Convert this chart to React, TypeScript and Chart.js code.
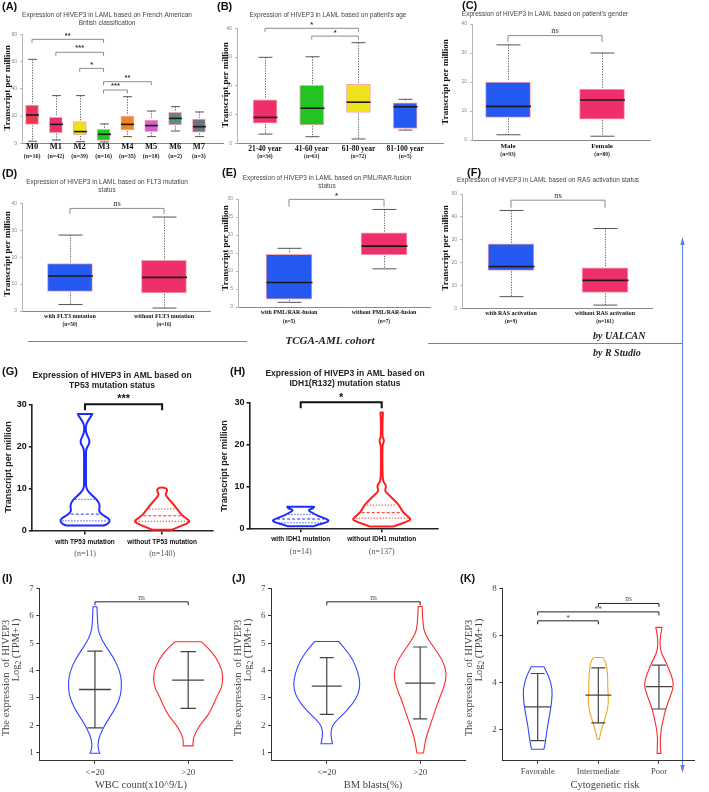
import React, { useEffect, useRef } from 'react';
import { Chart, registerables } from 'chart.js';

Chart.register(...registerables);

const PAGE_W = 709;
const PAGE_H = 792;
const SERIF = '"Liberation Serif", "Times New Roman", serif';
const SANS = '"Liberation Sans", Arial, sans-serif';

// ---------------- DATA ----------------
// (A) FAB classification
const fabCats = ['M0', 'M1', 'M2', 'M3', 'M4', 'M5', 'M6', 'M7'];
const fabN = ['(n=16)', '(n=42)', '(n=39)', '(n=16)', '(n=35)', '(n=18)', '(n=2)', '(n=3)'];
const fabMin = [1.5, 2.4, 1.2, 1.0, 4.9, 4.9, 9.0, 4.9];
const fabQ1 = [13.9, 7.8, 6.1, 2.2, 9.8, 8.6, 13.4, 8.1];
const fabMed = [20.8, 13.9, 8.6, 6.6, 13.9, 13.0, 18.3, 12.2];
const fabQ3 = [28.1, 19.1, 15.9, 10.3, 20.0, 17.1, 22.7, 17.8];
const fabMax = [61.6, 35.0, 35.0, 14.2, 34.2, 23.7, 26.9, 23.0];
const fabColors = ['#e8384f', '#ec2f6c', '#eee21c', '#22c322', '#f6831d', '#d85fcb', '#5b8985', '#6b7480'];
const fabSig = [[0, 3, 76.3, '**'], [1, 3, 66.8, '***'], [2, 3, 55, '*'], [3, 5, 45.2, '**'], [3, 4, 39.1, '***']];
const fabTicks = [0, 20, 40, 60, 80];

// (B) age
const ageCats = ['21-40 year', '41-60 year', '61-80 year', '81-100 year'];
const ageN = ['(n=34)', '(n=61)', '(n=72)', '(n=5)'];
const ageMin = [3.2, 2.3, 1.5, 4.6];
const ageQ1 = [7.0, 6.4, 10.7, 5.2];
const ageMed = [9.0, 12.2, 14.3, 12.7];
const ageQ3 = [15.1, 20.2, 20.5, 14.1];
const ageMax = [29.9, 30.1, 35.0, 15.3];
const ageColors = ['#ee2f6c', '#22c322', '#eee21c', '#2459f2'];
const ageSig = [[0, 2, 40, '*'], [1, 2, 37.3, '*']];
const ageTicks = [0, 10, 20, 30, 40];

// (C) gender
const genCats = ['Male', 'Female'];
const genN = ['(n=93)', '(n=80)'];
const genMin = [1.8, 1.3];
const genQ1 = [7.8, 7.2];
const genMed = [11.6, 13.8];
const genQ3 = [20.0, 17.6];
const genMax = [32.8, 30.0];
const genSig = [[0, 1, 36, 'ns']];
const genTicks = [0, 10, 20, 30, 40];

// (D) FLT3
const flt3Cats = ['with FLT3 mutation', 'without FLT3 mutation'];
const flt3N = ['(n=50)', '(n=16)'];
const flt3Min = [2.4, 1.1];
const flt3Q1 = [7.3, 6.7];
const flt3Med = [13.0, 12.5];
const flt3Q3 = [17.6, 18.8];
const flt3Max = [28.2, 34.9];
const flt3Sig = [[0, 1, 38.1, 'ns']];
const flt3Ticks = [0, 10, 20, 30, 40];

// (E) PML/RAR
const pmlCats = ['with PML/RAR-fusion', 'without PML/RAR-fusion'];
const pmlN = ['(n=5)', '(n=7)'];
const pmlMin = [1.3, 10.6];
const pmlQ1 = [2.2, 14.5];
const pmlMed = [6.8, 16.9];
const pmlQ3 = [14.6, 20.6];
const pmlMax = [16.3, 27.1];
const pmlSig = [[0, 1, 29.9, '*']];
const pmlTicks = [0, 5, 10, 15, 20, 25, 30];

// (F) RAS
const rasCats = ['with RAS activation', 'without RAS activation'];
const rasN = ['(n=9)', '(n=161)'];
const rasMin = [5.1, 1.4];
const rasQ1 = [16.6, 7.0];
const rasMed = [18.3, 12.2];
const rasQ3 = [28.2, 17.7];
const rasMax = [42.8, 34.9];
const rasSig = [[0, 1, 47.3, 'ns']];
const rasTicks = [0, 10, 20, 30, 40, 50];

const twoColors = ['#2459f2', '#ee2f6c'];

// (G) TP53 violins: [value, half width (category units)]
const tp53Cats = ['with TP53 mutation', 'without TP53 mutation'];
const tp53N = ['(n=11)', '(n=140)'];
const tp53With = [[27.7, 0.095], [27.2, 0.08], [25.4, 0.013], [24.0, 0.009], [23.0, 0.017], [21.1, 0.07], [19.6, 0.017], [18.5, 0.012], [15, 0.012], [11, 0.012], [10.2, 0.017], [9.5, 0.035], [8.5, 0.087], [7.5, 0.15], [6.5, 0.186], [5.6, 0.19], [4.8, 0.178], [4.0, 0.21], [3.3, 0.28], [2.6, 0.325], [1.9, 0.31], [1.4, 0.26], [1.3, 0.24]];
const tp53Without = [[10.3, 0.01], [10.2, 0.045], [9.8, 0.065], [9.3, 0.062], [8.8, 0.045], [8.4, 0.05], [7.5, 0.087], [6.5, 0.14], [5.5, 0.18], [4.7, 0.216], [3.9, 0.25], [3.0, 0.31], [2.3, 0.368], [1.6, 0.3], [0.8, 0.195], [0.3, 0.13]];
const tp53Quart = [[2.4, 4.0, 7.5], [2.3, 3.6, 5.2]];
const tp53Sig = [[0, 1, 30, '***']];
const tp53Ticks = [0, 10, 20, 30];

// (H) IDH1 violins
const idh1Cats = ['with IDH1 mutation', 'without IDH1 mutation'];
const idh1N = ['(n=14)', '(n=137)'];
const idh1With = [[5.2, 0.165], [4.8, 0.156], [4.6, 0.103], [4.2, 0.1], [3.8, 0.144], [3.3, 0.185], [2.8, 0.247], [2.2, 0.33], [1.8, 0.35], [1.3, 0.288], [0.9, 0.206], [0.6, 0.165]];
const idh1Without = [[27.6, 0.016], [27.0, 0.012], [22.0, 0.008], [21.4, 0.02], [20.9, 0.029], [20.3, 0.02], [19.6, 0.008], [12, 0.01], [11.0, 0.025], [10.4, 0.05], [9.8, 0.053], [9.2, 0.041], [8.7, 0.05], [8.0, 0.09], [7.2, 0.132], [6.2, 0.185], [5.2, 0.226], [4.4, 0.247], [3.6, 0.28], [2.8, 0.33], [2.2, 0.362], [1.6, 0.309], [1.0, 0.206], [0.5, 0.144]];
const idh1Quart = [[1.4, 2.3, 3.4], [2.5, 3.8, 5.6]];
const idh1Sig = [[0, 1, 30, '*']];
const idh1Ticks = [0, 10, 20, 30];

// (I) WBC count
const wbcCats = ['<=20', '>20'];
const wbcLow = [[6.33, 0.021], [5.6, 0.029], [5.29, 0.05], [4.93, 0.107], [4.44, 0.207], [3.96, 0.268], [3.59, 0.286], [3.1, 0.279], [2.62, 0.221], [2.13, 0.125], [1.64, 0.05], [1.28, 0.029], [1.04, 0.043], [0.98, 0.054]];
const wbcHigh = [[5.05, 0.143], [4.81, 0.221], [4.44, 0.304], [4.08, 0.357], [3.71, 0.375], [3.35, 0.357], [3.1, 0.314], [2.74, 0.268], [2.37, 0.214], [2.01, 0.125], [1.64, 0.064], [1.4, 0.05], [1.25, 0.054]];
const wbcErr = [[1.91, 3.31, 4.71], [2.62, 3.65, 4.69]];
const wbcSig = [[0, 1, 6.51, 'ns']];
const tpmTicks7 = [1, 2, 3, 4, 5, 6, 7];

// (J) BM blasts
const bmCats = ['<=20', '>20'];
const bmLow = [[5.06, 0.129], [4.8, 0.196], [4.37, 0.286], [3.88, 0.339], [3.52, 0.357], [3.15, 0.339], [2.79, 0.279], [2.42, 0.179], [2.12, 0.089], [1.94, 0.054], [1.69, 0.043], [1.45, 0.054], [1.33, 0.061]];
const bmHigh = [[6.34, 0.021], [5.71, 0.029], [5.34, 0.05], [4.86, 0.143], [4.37, 0.243], [3.88, 0.286], [3.4, 0.257], [2.91, 0.196], [2.42, 0.15], [1.94, 0.1], [1.45, 0.054], [0.99, 0.036]];
const bmErr = [[2.4, 3.43, 4.47], [2.24, 3.54, 4.86]];
const bmSig = [[0, 1, 6.51, 'ns']];

// (K) cytogenetic risk
const cytoCats = ['Favorable', 'Intermediate', 'Poor'];
const cytoFav = [[4.67, 0.103], [4.31, 0.18], [3.74, 0.242], [3.18, 0.232], [2.61, 0.196], [2.04, 0.155], [1.48, 0.129], [1.16, 0.103]];
const cytoInt = [[5.06, 0.077], [4.88, 0.129], [4.31, 0.155], [3.74, 0.155], [3.18, 0.17], [2.75, 0.144], [2.33, 0.093], [1.9, 0.041], [1.57, 0.015]];
const cytoPoor = [[6.34, 0.052], [6.01, 0.026], [5.59, 0.015], [5.23, 0.041], [4.88, 0.113], [4.31, 0.206], [3.89, 0.247], [3.46, 0.196], [2.89, 0.113], [2.33, 0.062], [1.9, 0.031], [1.48, 0.021], [0.98, 0.031]];
const cytoErr = [[1.52, 2.96, 4.38], [2.28, 3.46, 4.62], [2.87, 3.82, 4.74]];
const cytoSig = [[0, 1, 6.62, '*'], [0, 2, 7.0, '**'], [1, 2, 7.36, 'ns']];
const cytoTicks = [2, 4, 6, 8];

// ---------------- STYLES ----------------
const f = (size: number, family: string, weight = 'normal', style = 'normal') => `${style} ${weight} ${size}px ${family}`;
const LETTER = f(11, SANS, 'bold');
const UAL_TITLE = f(6.5, SANS);
const UAL_YT = f(9, SERIF, 'bold');
const PR_TITLE = f(8.5, SANS, 'bold');
const PR_YT = f(9, SANS, 'bold');
const GG_T = f(10.5, SERIF);

const ualAxis = { tickFont: { family: SANS, size: 5 }, tickColor: '#888', tickLen: 2, tickPad: 3, yAxisColor: '#b4b4b4', xAxisColor: '#8a8a8a', lw: 1, xTicks: false };
const prismAxis = { tickFont: { family: SANS, size: 9, weight: 'bold' }, tickColor: '#111', tickLen: 3.5, tickPad: 2, yAxisColor: '#222', xAxisColor: '#222', lw: 1.6, xTicks: true };
const ggAxis = { tickFont: { family: SERIF, size: 9 }, tickColor: '#444', tickLen: 3, tickPad: 2.5, yAxisColor: '#333', xAxisColor: '#333', lw: 1, xTicks: true };

const ualSig = (font: string, leg: number, gap: number) => ({ color: '#8d8d8d', lw: 1, leg, font, size: parseFloat(font.split(' ')[2]), text: '#333', gap });
const prSig = { color: '#111', lw: 2, leg: 6, font: f(11, SANS, 'bold'), size: 11, text: '#111', gap: 8 };
const ggSig = { color: '#222', lw: 1, leg: 3.5, font: f(7.5, SERIF), size: 7.5, text: '#555', gap: 4 };

const ualCat = (size: number, y: number) => ({ y, font: f(size, SERIF, 'bold'), color: '#111' });
const ualSub = (size: number, y: number) => ({ y, font: f(size, SERIF, 'bold'), color: '#222' });

function ytitleGG(x1: number, x2: number) {
  return [
    { t: 'The expression  of HIVEP3', x: x1, y: 678, font: GG_T, color: '#444', align: 'center', rot: true },
    { parts: [['Log', 0, 10.5], ['2', 2.5, 7.5], [' (TPM+1)', 0, 10.5]], x: x2, y: 650, color: '#444', rot: true },
  ];
}

// ---------------- PANELS ----------------
const PANELS: any[] = [
  {
    kind: 'box', page: true, rect: [22, 34.3, 223, 143.3], xr: [-0.42, 8.01], yr: [0, 80], yTicks: fabTicks,
    cats: fabCats, sub: fabN, catStyle: ualCat(8.5, 146.5), subStyle: ualSub(6, 156),
    box: { min: fabMin, q1: fabQ1, med: fabMed, q3: fabQ3, max: fabMax, colors: fabColors, bar: 13, cap: 4.5 },
    sig: fabSig, sigStyle: ualSig(f(7.5, SANS, 'bold'), 3.5, 6), axis: ualAxis,
    texts: [
      { t: '(A)', x: 2, y: 7, font: LETTER },
      { t: 'Expression of HIVEP3 in LAML based on French American', x: 107, y: 15, font: UAL_TITLE, color: '#444', align: 'center' },
      { t: 'British classification', x: 107, y: 23, font: UAL_TITLE, color: '#444', align: 'center' },
      { t: 'Transcript per million', x: 7.5, y: 88, font: UAL_YT, align: 'center', rot: true },
    ],
  },
  {
    kind: 'box', rect: [237, 28.3, 443, 143.3], xr: [-0.6, 3.81], yr: [0, 40], yTicks: ageTicks,
    cats: ageCats, sub: ageN, catStyle: ualCat(7.5, 149), subStyle: ualSub(5.5, 157),
    box: { min: ageMin, q1: ageQ1, med: ageMed, q3: ageQ3, max: ageMax, colors: ageColors, bar: 24, cap: 7 },
    sig: ageSig, sigStyle: ualSig(f(7.5, SANS, 'bold'), 3.5, 5.5), axis: ualAxis,
    texts: [
      { t: '(B)', x: 217, y: 7, font: LETTER },
      { t: "Expression of HIVEP3 in LAML based on patient's age", x: 328, y: 15, font: UAL_TITLE, color: '#444', align: 'center' },
      { t: 'Transcript per million', x: 226, y: 85, font: UAL_YT, align: 'center', rot: true },
    ],
  },
  {
    kind: 'box', rect: [472, 24, 650, 140], xr: [-0.383, 1.51], yr: [0, 40], yTicks: genTicks,
    cats: genCats, sub: genN, catStyle: ualCat(7, 146), subStyle: ualSub(5.5, 155),
    box: { min: genMin, q1: genQ1, med: genMed, q3: genQ3, max: genMax, colors: twoColors, bar: 45, cap: 12 },
    sig: genSig, sigStyle: ualSig(f(8.5, SERIF), 6.6, 5), axis: ualAxis,
    texts: [
      { t: '(C)', x: 462, y: 6, font: LETTER },
      { t: "Expression of HIVEP3 in LAML based on patient's gender", x: 545, y: 14, font: UAL_TITLE, color: '#444', align: 'center' },
      { t: 'Transcript per million', x: 446, y: 82, font: UAL_YT, align: 'center', rot: true },
    ],
  },
  {
    kind: 'box', rect: [22, 203.3, 210, 311], xr: [-0.51, 1.49], yr: [0, 40], yTicks: flt3Ticks,
    cats: flt3Cats, sub: flt3N, catStyle: ualCat(6, 316), subStyle: ualSub(5.3, 325),
    box: { min: flt3Min, q1: flt3Q1, med: flt3Med, q3: flt3Q3, max: flt3Max, colors: twoColors, bar: 45, cap: 12 },
    sig: flt3Sig, sigStyle: ualSig(f(8.5, SERIF), 5.7, 4.5), axis: ualAxis,
    texts: [
      { t: '(D)', x: 2, y: 174, font: LETTER },
      { t: 'Expression of HIVEP3 in LAML based on FLT3 mutation', x: 107, y: 182, font: UAL_TITLE, color: '#444', align: 'center' },
      { t: 'status', x: 107, y: 190, font: UAL_TITLE, color: '#444', align: 'center' },
      { t: 'Transcript per million', x: 7.5, y: 254, font: UAL_YT, align: 'center', rot: true },
    ],
  },
  {
    kind: 'box', rect: [238, 199, 430, 307], xr: [-0.537, 1.484], yr: [0, 30], yTicks: pmlTicks,
    cats: pmlCats, sub: pmlN, catStyle: ualCat(5.8, 312.3), subStyle: ualSub(5.3, 321.7),
    box: { min: pmlMin, q1: pmlQ1, med: pmlMed, q3: pmlQ3, max: pmlMax, colors: twoColors, bar: 46, cap: 12 },
    sig: pmlSig, sigStyle: ualSig(f(8, SANS, 'bold'), 7.4, 5.5), axis: ualAxis,
    texts: [
      { t: '(E)', x: 222, y: 173, font: LETTER },
      { t: 'Expression of HIVEP3 in LAML based on PML/RAR-fusion', x: 327, y: 178.5, font: UAL_TITLE, color: '#444', align: 'center' },
      { t: 'status', x: 327, y: 186, font: UAL_TITLE, color: '#444', align: 'center' },
      { t: 'Transcript per million', x: 225.5, y: 248, font: UAL_YT, align: 'center', rot: true },
    ],
  },
  {
    kind: 'box', rect: [462, 194, 652, 308.3], xr: [-0.521, 1.5], yr: [0, 50], yTicks: rasTicks,
    cats: rasCats, sub: rasN, catStyle: ualCat(6, 313.7), subStyle: ualSub(5.3, 321.7),
    box: { min: rasMin, q1: rasQ1, med: rasMed, q3: rasQ3, max: rasMax, colors: twoColors, bar: 46, cap: 12 },
    sig: rasSig, sigStyle: ualSig(f(8.5, SERIF), 7.7, 4.5), axis: ualAxis,
    texts: [
      { t: '(F)', x: 467, y: 173, font: LETTER },
      { t: 'Expression of HIVEP3 in LAML based on RAS activation status', x: 548, y: 180.5, font: UAL_TITLE, color: '#444', align: 'center' },
      { t: 'Transcript per million', x: 446, y: 248, font: UAL_YT, align: 'center', rot: true },
    ],
  },
  {
    kind: 'violin', rect: [32.3, 404.3, 213, 531], xr: [-0.684, 1.66], yr: [0, 30], yTicks: tp53Ticks,
    cats: tp53Cats, sub: tp53N, catStyle: { y: 542.3, font: f(6.5, SANS, 'bold'), color: '#111' }, subStyle: { y: 554, font: f(8, SERIF), color: '#555' },
    vio: { shapes: [tp53With, tp53Without], colors: ['#1e2bff', '#ff2020'], lw: 2, quart: tp53Quart },
    sig: tp53Sig, sigStyle: prSig, axis: prismAxis,
    texts: [
      { t: '(G)', x: 2, y: 372, font: LETTER },
      { t: 'Expression of HIVEP3 in AML based on', x: 112, y: 376, font: PR_TITLE, color: '#222', align: 'center' },
      { t: 'TP53 mutation status', x: 112, y: 386, font: PR_TITLE, color: '#222', align: 'center' },
      { t: 'Transcript per million', x: 9, y: 467, font: PR_YT, color: '#222', align: 'center', rot: true },
    ],
  },
  {
    kind: 'violin', rect: [250, 402.3, 438, 528.7], xr: [-0.626, 1.695], yr: [0, 30], yTicks: idh1Ticks,
    cats: idh1Cats, sub: idh1N, catStyle: { y: 539.3, font: f(6.5, SANS, 'bold'), color: '#111' }, subStyle: { y: 552.3, font: f(8, SERIF), color: '#555' },
    vio: { shapes: [idh1With, idh1Without], colors: ['#1e2bff', '#ff2020'], lw: 2, quart: idh1Quart },
    sig: idh1Sig, sigStyle: { ...prSig, gap: 7 }, axis: prismAxis,
    texts: [
      { t: '(H)', x: 230, y: 372, font: LETTER },
      { t: 'Expression of HIVEP3 in AML based on', x: 345, y: 374, font: PR_TITLE, color: '#222', align: 'center' },
      { t: 'IDH1(R132) mutation status', x: 345, y: 384, font: PR_TITLE, color: '#222', align: 'center' },
      { t: 'Transcript per million', x: 225, y: 466, font: PR_YT, color: '#222', align: 'center', rot: true },
    ],
  },
  {
    kind: 'violin', rect: [39.3, 588.4, 232, 760.7], xr: [-0.597, 1.47], yr: [0.71, 7], yTicks: tpmTicks7,
    cats: wbcCats, catStyle: { y: 772.7, font: f(9, SERIF), color: '#444' },
    vio: { shapes: [wbcLow, wbcHigh], colors: ['#3046ff', '#ff2a2a'], lw: 1.1, err: wbcErr, meanHalf: 16, capHalf: 7.7 },
    sig: wbcSig, sigStyle: ggSig, axis: ggAxis,
    texts: [
      { t: '(I)', x: 2, y: 579, font: LETTER },
      ...ytitleGG(6, 16.5),
      { t: 'WBC count(x10^9/L)', x: 141, y: 785, font: GG_T, color: '#444', align: 'center' },
    ],
  },
  {
    kind: 'violin', rect: [271, 588.4, 465, 760.7], xr: [-0.597, 1.48], yr: [0.71, 7], yTicks: tpmTicks7,
    cats: bmCats, catStyle: { y: 772.7, font: f(9, SERIF), color: '#444' },
    vio: { shapes: [bmLow, bmHigh], colors: ['#3046ff', '#ff2a2a'], lw: 1.1, err: bmErr, meanHalf: 15, capHalf: 7 },
    sig: bmSig, sigStyle: ggSig, axis: ggAxis,
    texts: [
      { t: '(J)', x: 232, y: 579, font: LETTER },
      ...ytitleGG(238, 248.5),
      { t: 'BM blasts(%)', x: 373, y: 785, font: GG_T, color: '#444', align: 'center' },
    ],
  },
  {
    kind: 'violin', rect: [502.3, 588.4, 707, 760.7], xr: [-0.584, 2.59], yr: [0.67, 8], yTicks: cytoTicks,
    cats: cytoCats, catStyle: { y: 771.7, font: f(8.5, SERIF), color: '#444' },
    vio: { shapes: [cytoFav, cytoInt, cytoPoor], colors: ['#3046ff', '#f5a623', '#ff2a2a'], lw: 1.1, err: cytoErr, meanHalf: 13, capHalf: 7 },
    sig: cytoSig, sigStyle: ggSig, axis: ggAxis,
    texts: [
      { t: '(K)', x: 460, y: 579, font: LETTER },
      ...ytitleGG(469, 479.5),
      { t: 'Cytogenetic risk', x: 605, y: 785, font: GG_T, color: '#444', align: 'center' },
    ],
  },
];

// ---------------- DRAWING HELPERS ----------------
function smoothSide(ctx: CanvasRenderingContext2D, P: number[][]) {
  ctx.lineTo(P[0][0], P[0][1]);
  for (let i = 1; i < P.length - 1; i++) {
    const mx = (P[i][0] + P[i + 1][0]) / 2;
    const my = (P[i][1] + P[i + 1][1]) / 2;
    ctx.quadraticCurveTo(P[i][0], P[i][1], mx, my);
  }
  ctx.lineTo(P[P.length - 1][0], P[P.length - 1][1]);
}

function violinPath(ctx: CanvasRenderingContext2D, xs: any, ys: any, ci: number, pts: number[][]) {
  const cx = xs.getPixelForValue(ci);
  const unit = xs.getPixelForValue(ci + 1) - cx;
  const R = pts.map(([v, w]) => [cx + w * unit, ys.getPixelForValue(v)]);
  const L = pts.map(([v, w]) => [cx - w * unit, ys.getPixelForValue(v)]).reverse();
  ctx.beginPath();
  ctx.moveTo(L[L.length - 1][0], L[L.length - 1][1]);
  smoothSide(ctx, R);
  smoothSide(ctx, L);
  ctx.closePath();
}

function hwAt(pts: number[][], v: number) {
  for (let k = 0; k < pts.length - 1; k++) {
    const [v0, w0] = pts[k];
    const [v1, w1] = pts[k + 1];
    if (v <= v0 && v >= v1) {
      const t = (v0 - v) / (v0 - v1 || 1);
      return w0 + (w1 - w0) * t;
    }
  }
  return 0;
}

function drawText(ctx: CanvasRenderingContext2D, tx: any) {
  ctx.save();
  ctx.fillStyle = tx.color || '#111';
  ctx.textBaseline = 'middle';
  ctx.translate(tx.x, tx.y);
  if (tx.rot) ctx.rotate(-Math.PI / 2);
  if (tx.parts) {
    let total = 0;
    const widths = tx.parts.map(([s, , size]: any) => {
      ctx.font = f(size, SERIF);
      const w = ctx.measureText(s).width;
      total += w;
      return w;
    });
    let x = -total / 2;
    ctx.textAlign = 'left';
    tx.parts.forEach(([s, dy, size]: any, i: number) => {
      ctx.font = f(size, SERIF);
      ctx.fillText(s, x, dy);
      x += widths[i];
    });
  } else {
    ctx.font = tx.font;
    ctx.textAlign = tx.align || 'left';
    ctx.fillText(tx.t, 0, 0);
  }
  ctx.restore();
}

function drawPage(ctx: CanvasRenderingContext2D) {
  ctx.save();
  ctx.strokeStyle = '#5f7ee8';
  ctx.fillStyle = '#5f7ee8';
  ctx.lineWidth = 1;
  ctx.beginPath();
  ctx.moveTo(28, 341.5); ctx.lineTo(247, 341.5);
  ctx.moveTo(428, 343.5); ctx.lineTo(682, 343.5);
  ctx.moveTo(682.5, 243); ctx.lineTo(682.5, 767);
  ctx.stroke();
  ctx.beginPath();
  ctx.moveTo(682.5, 237); ctx.lineTo(680.3, 245); ctx.lineTo(684.7, 245); ctx.closePath();
  ctx.moveTo(682.5, 773); ctx.lineTo(680.3, 765); ctx.lineTo(684.7, 765); ctx.closePath();
  ctx.fill();
  ctx.restore();
  drawText(ctx, { t: 'TCGA-AML cohort', x: 330, y: 341.5, font: f(11, SERIF, 'bold', 'italic'), color: '#222', align: 'center' });
  drawText(ctx, { t: 'by UALCAN', x: 593, y: 336, font: f(10, SERIF, 'bold', 'italic'), color: '#222' });
  drawText(ctx, { t: 'by R Studio', x: 593, y: 353, font: f(10, SERIF, 'bold', 'italic'), color: '#222' });
}

function makePlugin(p: any, idx: number) {
  return {
    id: 'panelDraw' + idx,
    beforeDatasetsDraw(chart: any) {
      if (p.kind !== 'violin') return;
      const ctx = chart.ctx as CanvasRenderingContext2D;
      const xs = chart.scales.x;
      const ys = chart.scales.y;
      const v = p.vio;
      ctx.save();
      v.shapes.forEach((pts: number[][], i: number) => {
        const cx = xs.getPixelForValue(i);
        const unit = xs.getPixelForValue(i + 1) - cx;
        ctx.strokeStyle = v.colors[i];
        ctx.lineWidth = v.lw;
        ctx.lineJoin = 'round';
        ctx.setLineDash([]);
        violinPath(ctx, xs, ys, i, pts);
        ctx.stroke();
        if (v.quart) {
          v.quart[i].forEach((q: number, k: number) => {
            const hw = hwAt(pts, q) * unit - v.lw;
            const y = ys.getPixelForValue(q);
            ctx.lineWidth = 1;
            ctx.setLineDash(k === 1 ? [3, 2] : [1.2, 1.8]);
            ctx.beginPath();
            ctx.moveTo(cx - hw, y);
            ctx.lineTo(cx + hw, y);
            ctx.stroke();
          });
          ctx.setLineDash([]);
        }
        if (v.err) {
          const [lo, , hi] = v.err[i];
          const yl = ys.getPixelForValue(lo);
          const yh = ys.getPixelForValue(hi);
          ctx.strokeStyle = '#444';
          ctx.lineWidth = 1.2;
          ctx.beginPath();
          ctx.moveTo(cx, yl); ctx.lineTo(cx, yh);
          ctx.moveTo(cx - v.capHalf, yl); ctx.lineTo(cx + v.capHalf, yl);
          ctx.moveTo(cx - v.capHalf, yh); ctx.lineTo(cx + v.capHalf, yh);
          ctx.stroke();
        }
      });
      ctx.restore();
    },
    afterDatasetsDraw(chart: any) {
      if (p.kind !== 'box') return;
      const ctx = chart.ctx as CanvasRenderingContext2D;
      const xs = chart.scales.x;
      const ys = chart.scales.y;
      const b = p.box;
      ctx.save();
      p.cats.forEach((_: string, i: number) => {
        const cx = Math.round(xs.getPixelForValue(i)) + 0.5;
        const yMax = ys.getPixelForValue(b.max[i]);
        const yQ3 = ys.getPixelForValue(b.q3[i]);
        const yQ1 = ys.getPixelForValue(b.q1[i]);
        const yMin = ys.getPixelForValue(b.min[i]);
        const yMed = ys.getPixelForValue(b.med[i]);
        ctx.strokeStyle = '#6a6a6a';
        ctx.lineWidth = 1;
        ctx.setLineDash([1.3, 1.3]);
        ctx.beginPath();
        ctx.moveTo(cx, yMax); ctx.lineTo(cx, yQ3 - 1);
        ctx.moveTo(cx, yQ1 + 1); ctx.lineTo(cx, yMin);
        ctx.stroke();
        ctx.setLineDash([]);
        ctx.strokeStyle = '#555';
        ctx.beginPath();
        ctx.moveTo(cx - b.cap, yMax); ctx.lineTo(cx + b.cap, yMax);
        ctx.moveTo(cx - b.cap, yMin); ctx.lineTo(cx + b.cap, yMin);
        ctx.stroke();
        ctx.strokeStyle = '#1a1a1a';
        ctx.lineWidth = 1.6;
        ctx.beginPath();
        ctx.moveTo(cx - b.bar / 2, yMed); ctx.lineTo(cx + b.bar / 2, yMed);
        ctx.stroke();
      });
      ctx.restore();
    },
    afterDraw(chart: any) {
      const ctx = chart.ctx as CanvasRenderingContext2D;
      const xs = chart.scales.x;
      const ys = chart.scales.y;
      const s = p.sigStyle;
      ctx.save();
      p.sig.forEach(([a, b, val, label]: any) => {
        const y = ys.getPixelForValue(val);
        const xa = xs.getPixelForValue(a);
        const xb = xs.getPixelForValue(b);
        ctx.strokeStyle = s.color;
        ctx.lineWidth = s.lw;
        ctx.beginPath();
        ctx.moveTo(xa, y + s.leg); ctx.lineTo(xa, y); ctx.lineTo(xb, y); ctx.lineTo(xb, y + s.leg);
        ctx.stroke();
        const star = label.indexOf('*') >= 0;
        drawText(ctx, { t: label, x: (xa + xb) / 2, y: y - s.gap + (star ? s.size * 0.28 : 0), font: s.font, color: s.text, align: 'center' });
      });
      ctx.restore();
      p.cats.forEach((c: string, i: number) => {
        const x = xs.getPixelForValue(i);
        drawText(ctx, { t: c, x, y: p.catStyle.y, font: p.catStyle.font, color: p.catStyle.color, align: 'center' });
        if (p.sub) drawText(ctx, { t: p.sub[i], x, y: p.subStyle.y, font: p.subStyle.font, color: p.subStyle.color, align: 'center' });
      });
      p.texts.forEach((t: any) => drawText(ctx, t));
      if (p.page) drawPage(ctx);
    },
  };
}

function buildConfig(p: any, idx: number) {
  const [l, t, r, b] = p.rect;
  const ax = p.axis;
  const yw = Math.min(Math.floor(l) - 1, 30);
  const catIdx = p.cats.map((_: string, i: number) => i);
  const scales: any = {
    x: {
      type: 'linear', min: p.xr[0], max: p.xr[1], offset: false,
      afterFit: (s: any) => { s.height = 0; },
      afterBuildTicks: (s: any) => { s.ticks = catIdx.map((v: number) => ({ value: v })); },
      ticks: { display: false },
      grid: { display: ax.xTicks, drawOnChartArea: false, drawTicks: true, tickLength: ax.tickLen, color: ax.xAxisColor, lineWidth: ax.lw, offset: false },
      border: { display: true, color: ax.xAxisColor, width: ax.lw },
    },
    y: {
      type: 'linear', min: p.yr[0], max: p.yr[1],
      afterFit: (s: any) => { s.width = yw; },
      afterBuildTicks: (s: any) => { s.ticks = p.yTicks.map((v: number) => ({ value: v })); },
      ticks: { font: ax.tickFont, color: ax.tickColor, padding: ax.tickPad, autoSkip: false },
      grid: { drawOnChartArea: false, drawTicks: true, tickLength: ax.tickLen, color: ax.yAxisColor, lineWidth: ax.lw },
      border: { display: true, color: ax.yAxisColor, width: ax.lw },
    },
  };
  let type: any;
  let datasets: any[];
  if (p.kind === 'box') {
    type = 'bar';
    datasets = [{
      data: p.cats.map((_: string, i: number) => ({ x: i, y: [p.box.q1[i], p.box.q3[i]] })),
      backgroundColor: p.box.colors,
      borderColor: '#f4a7ad',
      borderWidth: 1,
      borderSkipped: false,
      barThickness: p.box.bar,
    }];
  } else {
    type = 'scatter';
    const v = p.vio;
    datasets = [{
      data: p.cats.map((_: string, i: number) => ({ x: i, y: v.err ? v.err[i][1] : v.quart[i][1] })),
      pointStyle: 'line',
      pointRadius: v.err ? v.meanHalf : 0,
      pointHoverRadius: v.err ? v.meanHalf : 0,
      borderColor: '#444',
      backgroundColor: '#444',
      borderWidth: 1.3,
    }];
  }
  return {
    type,
    data: { datasets },
    options: {
      responsive: false,
      maintainAspectRatio: false,
      animation: false,
      devicePixelRatio: 1,
      events: [],
      layout: { padding: { left: l - yw, top: t, right: PAGE_W - r, bottom: PAGE_H - b } },
      plugins: { legend: { display: false }, tooltip: { enabled: false }, title: { display: false } },
      scales,
    },
    plugins: [makePlugin(p, idx)],
  };
}

function PanelChart({ cfg, idx }: { cfg: any; idx: number }) {
  const ref = useRef<HTMLCanvasElement | null>(null);
  useEffect(() => {
    if (!ref.current) return;
    const chart = new Chart(ref.current, buildConfig(cfg, idx) as any);
    return () => chart.destroy();
  }, [cfg, idx]);
  return (
    <canvas
      ref={ref}
      width={PAGE_W}
      height={PAGE_H}
      style={{ position: 'absolute', left: 0, top: 0, width: PAGE_W, height: PAGE_H }}
    />
  );
}

export default function App() {
  return (
    <div style={{ position: 'fixed', left: 0, top: 0, width: PAGE_W, height: PAGE_H, background: '#ffffff', overflow: 'hidden' }}>
      {PANELS.map((p, i) => (
        <PanelChart key={i} cfg={p} idx={i} />
      ))}
    </div>
  );
}
